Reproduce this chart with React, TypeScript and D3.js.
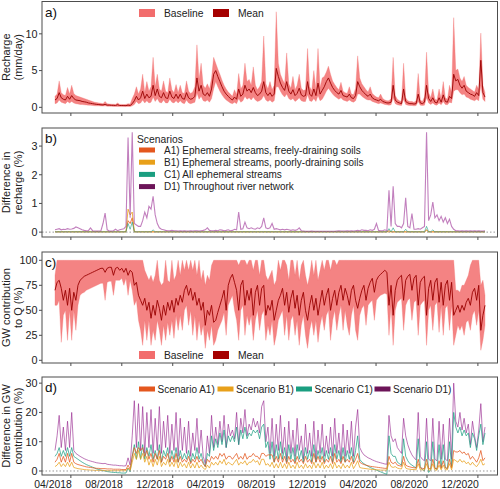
import React from "react";
import * as d3 from "d3";

// ---------- data (5-day grid starting 2018-02-22) ----------
const startDate = "2018-02-22";
const stepDays = 5;
const xTickLabels = ["04/2018","08/2018","12/2018","04/2019","08/2019","12/2019","04/2020","08/2020","12/2020"];

// Panel a: recharge (mm/day)
const aMean = [
  1.0,1.2,2.0,1.3,1.1,1.0,1.5,1.1,1.6,1.2,
  1.0,0.95,0.9,0.8,0.75,0.7,0.6,0.55,0.5,0.45,
  0.4,0.38,0.35,0.33,0.4,0.3,0.3,0.28,0.27,0.26,
  0.35,0.25,0.25,0.24,0.23,0.3,0.25,0.5,0.9,1.5,
  1.0,1.3,2.2,1.2,1.8,1.3,1.5,3.0,1.6,2.5,
  1.5,1.3,2.0,1.3,1.2,2.2,1.4,1.2,1.8,1.2,
  1.8,1.2,1.1,2.0,1.3,1.1,1.2,1.5,4.0,2.2,
  3.0,1.8,1.6,2.0,1.5,2.5,4.5,5.0,4.2,3.5,
  2.8,2.2,1.8,1.5,1.2,1.0,1.4,1.1,2.5,1.5,
  1.8,3.0,2.2,2.5,2.0,2.7,2.0,1.6,1.8,2.2,
  3.5,2.0,1.6,2.0,1.5,1.8,5.3,4.2,3.3,2.7,
  2.3,3.5,2.2,1.8,2.4,1.6,1.9,2.6,1.7,1.5,
  1.6,3.5,1.8,1.5,2.5,1.6,3.3,1.8,2.3,2.8,
  3.5,4.0,3.3,2.7,2.3,2.0,1.8,2.3,1.6,1.5,
  1.4,1.8,1.3,1.2,1.6,3.5,2.8,2.3,2.0,1.7,
  1.5,1.8,1.3,1.1,1.0,0.9,1.1,0.8,0.7,0.6,
  0.6,0.7,3.0,1.0,0.7,0.6,0.5,2.5,0.8,0.6,
  0.5,0.5,0.45,0.5,1.8,0.6,0.5,0.7,3.0,1.2,
  0.8,1.3,0.7,0.6,1.3,0.7,1.7,0.8,0.7,1.5,
  1.2,4.5,3.6,3.8,3.0,2.6,3.0,2.2,2.0,1.8,
  1.7,1.5,2.0,1.6,6.4,2.0,1.4
];
const aHigh = [
  1.5,1.8,3.6,2.0,1.7,1.6,2.7,1.8,3.0,1.9,
  1.6,1.5,1.4,1.3,1.2,1.1,1.0,0.9,0.8,0.7,
  0.65,0.6,0.55,0.5,0.8,0.48,0.45,0.43,0.42,0.4,
  0.6,0.4,0.4,0.38,0.4,0.5,0.45,1.2,1.8,2.8,
  1.8,2.5,4.5,2.0,3.5,2.2,2.8,6.8,2.8,4.5,
  2.5,2.2,3.6,2.2,2.0,4.0,2.4,2.0,3.1,2.0,
  3.0,2.0,1.9,3.6,2.2,1.9,2.1,2.8,8.5,3.8,
  6.0,3.0,2.6,3.2,2.5,4.0,6.8,6.0,5.2,4.5,
  3.7,3.0,2.5,2.1,1.8,1.5,2.4,1.7,4.6,2.5,
  3.0,6.0,3.5,3.8,3.0,5.5,3.0,2.4,2.8,3.5,
  9.7,3.2,2.5,3.5,2.4,3.0,13.0,6.0,4.5,3.8,
  3.2,7.4,3.2,2.6,4.2,2.4,3.0,4.5,2.6,2.3,
  2.4,8.0,2.8,2.3,5.0,2.4,8.0,2.7,4.0,4.2,
  4.8,5.6,4.5,3.6,3.1,2.7,2.4,3.4,2.2,2.0,
  1.9,2.8,1.8,1.7,2.6,7.0,4.0,3.2,2.8,2.4,
  2.1,2.8,1.9,1.6,1.4,1.3,1.8,1.2,1.0,0.9,
  0.9,1.2,6.8,1.6,1.1,0.9,0.8,6.0,1.3,0.9,
  0.8,0.8,0.7,0.9,4.6,1.0,0.8,1.4,7.5,2.0,
  1.3,2.5,1.1,1.0,2.5,1.2,3.5,1.3,1.1,3.0,
  2.0,12.2,5.0,5.2,4.0,3.5,4.2,3.0,2.7,2.5,
  2.3,2.1,3.0,2.4,10.1,3.0,2.0
];
const aLow = [
  0.5,0.6,1.0,0.7,0.6,0.5,0.8,0.6,0.8,0.6,
  0.5,0.45,0.4,0.38,0.35,0.32,0.3,0.28,0.25,0.22,
  0.2,0.2,0.18,0.17,0.2,0.15,0.15,0.14,0.13,0.12,
  0.12,0.1,0.1,0.1,0.1,0.12,0.1,0.2,0.4,0.8,
  0.5,0.6,1.0,0.6,0.9,0.6,0.7,1.4,0.8,1.2,
  0.7,0.6,1.0,0.6,0.6,1.1,0.7,0.6,0.9,0.6,
  0.9,0.6,0.5,1.0,0.6,0.5,0.6,0.7,2.0,1.1,
  1.5,0.9,0.8,1.0,0.7,1.2,2.5,3.5,2.8,2.2,
  1.7,1.3,1.0,0.8,0.6,0.5,0.7,0.5,1.2,0.7,
  0.9,1.5,1.1,1.3,1.0,1.4,1.0,0.8,0.9,1.1,
  1.6,1.0,0.8,1.0,0.7,0.9,2.8,2.8,2.2,1.7,
  1.4,1.8,1.2,1.0,1.2,0.8,1.0,1.3,0.9,0.8,
  0.8,1.7,0.9,0.8,1.2,0.8,1.6,0.9,1.1,1.6,
  2.2,2.6,2.2,1.8,1.5,1.3,1.1,1.3,1.0,0.9,
  0.8,1.0,0.8,0.7,0.9,1.8,1.8,1.5,1.3,1.1,
  1.0,1.0,0.8,0.7,0.6,0.5,0.6,0.5,0.4,0.35,
  0.3,0.35,1.3,0.5,0.35,0.3,0.25,1.1,0.4,0.3,
  0.25,0.25,0.2,0.25,0.8,0.3,0.25,0.3,1.3,0.6,
  0.4,0.6,0.35,0.3,0.6,0.35,0.8,0.4,0.35,0.7,
  0.6,2.2,2.4,2.4,2.0,1.7,1.8,1.4,1.3,1.1,
  1.0,0.9,1.1,0.9,3.0,1.1,0.8
];

// Panel b: difference in recharge (%)
const bA1 = [
  0.01,0.01,0.01,0.01,0.01,0.01,0.01,0.01,0.01,0.01,
  0.01,0.01,0.01,0.01,0.01,0.01,0.01,0.01,0.01,0.01,
  0.01,0.01,0.01,0.01,0.01,0.01,0.01,0.01,0.01,0.01,
  0.01,0.01,0.01,0.01,0.01,0.4,0.3,0.5,0.01,0.01,
  0.01,0.01,0.01,0.01,0.01,0.01,0.01,0.01,0.01,0.01,
  0.01,0.01,0.01,0.01,0.01,0.01,0.01,0.01,0.01,0.01,
  0.01,0.01,0.01,0.01,0.01,0.01,0.01,0.01,0.01,0.01,
  0.01,0.01,0.01,0.01,0.01,0.01,0.01,0.01,0.01,0.01,
  0.01,0.01,0.01,0.01,0.01,0.01,0.01,0.01,0.01,0.01,
  0.01,0.01,0.01,0.01,0.01,0.01,0.01,0.01,0.01,0.01,
  0.01,0.01,0.01,0.01,0.01,0.01,0.01,0.01,0.01,0.01,
  0.01,0.01,0.01,0.01,0.01,0.01,0.01,0.01,0.01,0.01,
  0.01,0.01,0.01,0.01,0.01,0.01,0.01,0.01,0.01,0.01,
  0.01,0.01,0.01,0.01,0.01,0.01,0.01,0.01,0.01,0.01,
  0.01,0.01,0.01,0.01,0.01,0.01,0.01,0.01,0.01,0.01,
  0.01,0.01,0.01,0.01,0.01,0.01,0.01,0.01,0.01,0.01,
  0.05,0.01,0.01,0.01,0.01,0.01,0.01,0.01,0.01,0.01,
  0.01,0.01,0.01,0.01,0.01,0.01,0.01,0.01,0.08,0.01,
  0.01,0.01,0.01,0.01,0.01,0.01,0.01,0.01,0.01,0.01,
  0.01,0.01,0.01,0.01,0.01,0.01,0.01,0.01,0.01,0.01,
  0.01,0.01,0.01,0.01,0.01,0.01,0.01
];
const bB1 = [
  0.01,0.01,0.01,0.01,0.01,0.01,0.01,0.01,0.01,0.01,
  0.01,0.01,0.01,0.01,0.01,0.01,0.01,0.01,0.01,0.01,
  0.01,0.01,0.01,0.01,0.01,0.01,0.01,0.01,0.01,0.01,
  0.01,0.01,0.01,0.01,0.01,0.8,0.6,0.7,0.01,0.01,
  0.01,0.01,0.01,0.01,0.01,0.01,0.01,0.01,0.01,0.01,
  0.01,0.01,0.01,0.01,0.01,0.01,0.01,0.01,0.01,0.01,
  0.01,0.01,0.01,0.01,0.01,0.01,0.01,0.01,0.01,0.01,
  0.01,0.01,0.01,0.01,0.01,0.01,0.01,0.01,0.01,0.01,
  0.01,0.01,0.01,0.01,0.01,0.01,0.01,0.01,0.01,0.01,
  0.01,0.01,0.01,0.01,0.01,0.01,0.01,0.01,0.01,0.01,
  0.01,0.01,0.01,0.01,0.01,0.01,0.01,0.01,0.01,0.01,
  0.01,0.01,0.01,0.01,0.01,0.01,0.01,0.01,0.01,0.01,
  0.01,0.01,0.01,0.01,0.01,0.01,0.01,0.01,0.01,0.01,
  0.01,0.01,0.01,0.01,0.01,0.01,0.01,0.01,0.01,0.01,
  0.01,0.01,0.01,0.01,0.01,0.01,0.01,0.01,0.01,0.01,
  0.01,0.01,0.01,0.01,0.01,0.01,0.01,0.01,0.01,0.01,
  0.01,0.01,0.01,0.01,0.01,0.01,0.01,0.01,0.01,0.01,
  0.01,0.01,0.01,0.01,0.01,0.01,0.01,0.01,0.06,0.01,
  0.01,0.01,0.01,0.01,0.01,0.01,0.01,0.01,0.01,0.01,
  0.01,0.01,0.01,0.01,0.01,0.01,0.01,0.01,0.01,0.01,
  0.01,0.01,0.01,0.01,0.01,0.01,0.01
];
const bC1 = [
  0.01,0.01,0.01,0.01,0.01,0.01,0.01,0.01,0.01,0.01,
  0.01,0.01,0.01,0.01,0.01,0.01,0.01,0.01,0.01,0.01,
  0.01,0.01,0.01,0.01,0.01,0.01,0.01,0.01,0.01,0.01,
  0.01,0.01,0.01,0.01,0.01,0.3,0.1,0.35,0.01,0.01,
  0.01,0.01,0.01,0.01,0.01,0.01,0.01,0.08,0.01,0.01,
  0.01,0.01,0.01,0.01,0.01,0.01,0.01,0.01,0.01,0.01,
  0.01,0.01,0.01,0.01,0.01,0.01,0.01,0.01,0.01,0.01,
  0.01,0.01,0.01,0.01,0.01,0.01,0.01,0.01,0.01,0.01,
  0.01,0.01,0.01,0.01,0.01,0.01,0.01,0.01,0.01,0.01,
  0.01,0.01,0.01,0.01,0.01,0.01,0.01,0.01,0.01,0.01,
  0.01,0.01,0.01,0.01,0.01,0.01,0.01,0.01,0.01,0.01,
  0.01,0.01,0.01,0.01,0.01,0.01,0.01,0.01,0.01,0.01,
  0.01,0.01,0.01,0.01,0.01,0.01,0.01,0.01,0.01,0.01,
  0.01,0.01,0.01,0.01,0.01,0.01,0.01,0.01,0.01,0.01,
  0.01,0.01,0.01,0.01,0.01,0.01,0.01,0.01,0.01,0.01,
  0.01,0.01,0.01,0.01,0.01,0.01,0.01,0.01,0.01,0.01,
  0.12,0.01,0.15,0.01,0.01,0.01,0.01,0.01,0.1,0.01,
  0.01,0.01,0.01,0.01,0.01,0.01,0.01,0.01,0.2,0.01,
  0.01,0.08,0.01,0.01,0.01,0.01,0.01,0.01,0.01,0.01,
  0.01,0.01,0.01,0.01,0.01,0.01,0.01,0.01,0.01,0.01,
  0.01,0.01,0.01,0.01,0.01,0.01,0.01
];
const bD1 = [
  0.08,0.1,0.12,0.08,0.1,0.09,0.12,0.1,0.11,0.13,
  0.18,0.15,0.12,0.08,0.06,0.05,0.05,0.15,0.05,0.04,
  0.04,0.04,0.05,0.3,0.66,0.08,0.04,0.04,0.05,0.1,
  0.05,0.08,0.1,0.12,0.2,3.3,0.5,3.48,0.3,0.25,
  0.2,0.2,0.4,0.7,0.5,0.9,0.8,1.25,0.6,0.3,
  0.15,0.1,0.08,0.06,0.05,0.05,0.06,0.05,0.05,0.04,
  0.05,0.04,0.05,0.04,0.04,0.05,0.04,0.05,0.05,0.04,
  0.05,0.06,0.08,0.15,0.06,0.05,0.05,0.06,0.05,0.08,
  0.07,0.05,0.06,0.08,0.05,0.06,0.1,0.08,0.7,0.1,
  0.12,0.35,0.15,0.12,0.15,0.12,0.1,0.15,0.12,0.2,
  0.5,0.15,0.12,0.15,0.3,0.1,0.12,0.1,0.08,0.1,
  0.08,0.1,0.08,0.06,0.08,0.06,0.08,0.15,0.05,0.04,
  0.03,0.03,0.03,0.04,0.03,0.03,0.03,0.03,0.03,0.03,
  0.03,0.03,0.03,0.03,0.03,0.04,0.05,0.04,0.04,0.04,
  0.05,0.04,0.05,0.04,0.05,0.06,0.05,0.08,0.06,0.06,
  0.05,0.08,0.06,0.1,0.3,0.06,0.05,0.05,0.08,0.05,
  1.46,0.2,1.6,0.3,0.2,0.2,0.15,0.3,1.2,0.2,
  0.15,0.65,0.1,0.1,0.12,0.1,0.15,0.2,3.48,0.4,
  0.6,1.05,0.5,0.6,0.4,0.55,0.35,0.5,0.3,0.45,
  0.2,0.1,0.05,0.05,0.04,0.05,0.04,0.05,0.04,0.05,
  0.04,0.05,0.04,0.05,0.04,0.04,0.05
];

// Panel c: GW contribution to Q (%)
const cMean = [
  70,78,80,72,60,70,55,72,50,68,
  60,75,80,82,84,85,86,87,88,89,
  90,91,92,92,88,92,93,93,85,92,
  93,90,92,88,92,85,90,88,75,78,
  65,60,55,62,50,58,42,55,45,60,
  52,40,55,45,58,50,60,48,62,55,
  65,58,70,75,65,72,60,68,55,62,
  50,58,35,50,45,55,38,40,48,55,
  62,70,50,75,82,86,78,70,50,75,
  80,55,70,60,72,45,68,75,55,72,
  75,45,55,50,60,40,50,60,65,72,
  55,68,48,62,70,52,65,45,60,68,
  50,40,55,65,50,62,45,58,70,55,
  65,72,50,62,70,55,68,75,60,72,
  65,55,70,75,60,52,62,70,75,60,
  72,78,82,68,80,84,86,88,90,88,
  55,75,45,70,80,83,85,60,80,84,
  86,70,82,85,55,78,82,84,45,72,
  80,60,78,82,58,78,55,75,80,60,
  78,45,50,55,48,55,50,58,62,55,
  68,72,60,75,30,45,55
];
const cLow = [
  55,55,60,18,45,50,20,50,20,50,
  30,55,65,67,68,70,71,72,73,74,
  75,76,77,77,60,78,79,79,65,80,
  80,80,82,75,82,65,80,70,55,60,
  40,30,15,40,20,40,15,30,20,40,
  30,15,35,20,38,25,40,22,45,30,
  45,30,50,55,35,50,25,45,20,40,
  25,35,12,30,20,35,15,20,30,35,
  40,48,25,55,60,65,50,40,20,50,
  55,25,45,35,45,20,40,50,30,45,
  50,20,35,25,40,15,25,40,45,50,
  25,45,20,40,45,25,40,15,35,45,
  25,12,30,40,25,40,18,35,45,30,
  45,50,20,40,50,30,45,55,30,50,
  35,25,45,55,30,20,45,52,55,35,
  55,58,60,40,60,63,65,66,67,66,
  25,55,15,50,58,60,62,30,55,60,
  62,40,58,60,25,55,58,60,15,50,
  55,30,55,58,28,55,25,52,55,30,
  55,15,25,35,30,35,25,38,40,30,
  45,50,35,50,10,20,35
];
const cHigh = [
  85,100,100,100,100,100,100,100,100,100,
  100,100,100,100,100,100,100,100,100,100,
  100,100,100,100,100,100,100,100,100,100,
  100,100,100,100,100,100,100,100,100,100,
  100,100,100,90,85,80,85,78,85,100,
  80,75,78,100,80,78,100,80,85,100,
  85,100,90,100,90,100,90,100,85,100,
  80,90,75,85,80,95,100,100,100,100,
  100,100,100,100,100,100,100,100,95,100,
  100,100,95,100,100,90,100,100,85,100,
  100,85,80,85,90,75,80,100,90,100,
  100,95,80,100,100,85,100,80,95,100,
  85,75,85,100,85,100,80,90,100,90,
  100,100,90,100,100,95,100,100,100,100,
  100,100,100,100,100,100,100,100,100,100,
  100,100,100,100,100,100,100,100,100,100,
  100,100,100,100,100,100,100,100,100,100,
  100,100,100,100,100,100,100,100,100,100,
  100,100,100,100,100,100,100,100,100,100,
  100,100,70,70,68,75,75,80,85,95,
  100,100,100,100,75,80,65
];

// Panel d: difference in GW contribution (%)
const dA1 = [
  3,4,6,3,5,3,6,3,6,3,
  2.5,2.2,2,1.8,1.6,1.4,1.3,1.2,1.1,1.0,
  0.9,0.9,0.8,0.8,0.8,0.7,0.7,0.7,0.6,0.6,
  0.6,0.6,0.5,0.5,0.5,2,0.6,5,8,6,
  8,7,8,5,7,4,6,3,6,4,
  7,3,5,4,6,3,5,3,6,3,
  5,3,4,3,5,2.5,4,3,5,3,
  4,2.5,1.5,4,3,5,4,5,4,6,
  5,6,4,5,5,4,5,6,4,5,
  4,6,4,5,5,6,5,5,4,6,
  6,5,5.5,5.5,5.5,3,5,3,6,3,
  5,2.5,5,3,4,2.5,5,3,4,2.5,
  5,3,4,2.5,6,3,5,3,5,2.5,
  4,3,5,2.5,6,3,4,2.5,5,3,
  4,3,5,2.5,4,6,3,2.5,2.2,2,
  1.8,1.6,1.5,1.4,1.3,1.2,1.1,1.0,0.9,0.9,
  5,3,2.5,3,2,1.8,1.6,5,2,1.6,
  1.4,1.2,1.1,1.0,4,1.0,0.9,0.8,4,0.8,
  0.8,4,0.9,0.8,3.5,0.9,3.5,1,0.9,4,
  1,7,6.5,6.5,7,6,6.5,5.5,6,4,
  5,4,3,4.5,7,3.5,4.5
];
const dB1 = [
  1.5,2,3,1.5,2.5,1.5,3,1.5,3,1.2,
  1.0,0.8,0.7,0.6,0.5,0.4,0.4,0.3,0.3,0.2,
  0.2,0.2,0.2,0.2,0.1,0.1,0.1,0.1,0.1,0.1,
  0.1,0.1,0.1,0.1,0.1,1.0,0.2,3,6,4,
  7,4,6,3,5,2,4,1.5,4,2,
  5,1.5,3,2,4,1.5,3,1.5,4,1,
  3,1.5,2.5,1,3,1,2.5,1,3,1,
  2,1,0.5,2,1,3,2,3,2,3.5,
  2.5,4,2,3,2.5,2,3,4,2,3,
  2.5,3.5,2,3,3,4,3,3.5,2,4,
  4,2,2.5,1.5,3,1,2.5,1,3,1,
  2.5,0.8,3,1,2,0.8,3,1,2,0.8,
  2.5,1,2,0.8,3,1,2.5,1,3,0.8,
  2,1,2.5,0.8,3,1,2,0.8,2.5,1,
  2,1,3,0.8,2,3.5,1.2,1.0,0.9,0.8,
  0.7,0.6,0.5,0.5,0.4,0.4,0.3,0.3,0.3,0.3,
  3,1.5,1.2,1.5,1,0.8,0.7,3,1,0.7,
  0.6,0.5,0.5,0.4,2.5,0.4,0.4,0.3,2.5,0.3,
  0.3,2.5,0.3,0.3,2,0.4,2,0.4,0.4,2.5,
  0.4,4,3.5,3,4,3,3.5,2.5,3,2,
  3,2,1.5,2.5,4,2,2.5
];
const dC1 = [
  5,6,8,5,7,5,8,5,8,5,
  4.5,4,3.5,3,2.6,2.2,1.9,1.6,1.3,1.0,
  0.7,0.5,0.3,0.1,0,-0.2,-0.3,-0.4,-0.5,-0.5,
  -0.6,-0.6,-0.7,-0.7,-0.7,1.0,-0.3,5,9,4,
  10,4,9,4,8,5,9,4,7,4,
  9,3,7,5,8,3,7,4,8,3,
  7,4,6,4,7,3,6,4,8,4,
  6,3,1.5,6,5,12,7,11,8,13,
  9,14,8,12,10,12,10,15,9,14,
  11,15,11,13,12,14,13,14,11,15,
  16,8,10,4,10,3,9,4,10,4,
  8,3,9,4,8,3,9,4,7,3,
  8,4,7,3,9,3,7,4,8,3,
  7,4,8,3,9,4,7,3,8,3,
  7,4,8,3,7,12,4,3,2.5,2,
  1.6,1.2,0.9,0.6,0.3,0,-0.3,-0.6,-0.9,-1.1,
  12,6,5,5,3,2.5,2,11,5,3.5,
  2.5,2,1.5,1,11,1.5,0.5,0,10,-0.5,
  0.5,10,1,0.5,9,1,9,1.2,0.8,10,
  1.5,20,15,13,15,12,14,12,13,8,
  13,11,7,12,16,9,13
];
const dD1 = [
  7,12,19,8,15,7,17,8,20,7,
  6,5.5,5,4.6,4.2,3.9,3.6,3.4,3.2,3.0,
  2.8,2.7,2.6,2.5,2.6,2.3,2.2,2.1,2.0,2.0,
  1.9,1.8,1.8,1.7,1.8,4.5,2.0,12,24,8,
  23,7,22,6,20,8,21,6,18,7,
  22,6,17,8,19,6,16,7,20,5,
  18,7,15,6,17,5,13,7,18,6,
  14,5,2.5,12,6,19,8,15,9,17,
  10,19,8,16,12,14,11,20,9,18,
  13,21,12,16,14,18,15,17,13,22,
  24,10,15,6,18,5,16,7,19,6,
  15,4,17,6,14,5,18,7,12,4,
  16,6,13,5,17,4,14,6,16,5,
  12,6,15,5,18,6,13,4,16,5,
  14,6,17,5,15,21,8,6.5,5.5,5,
  4.5,4.2,3.8,3.5,3.2,3.0,2.8,2.6,2.4,2.3,
  19,12,10,11,8,7,6,18,12,9,
  7,5.5,4.5,3.8,20,5,4,3.5,18,4,
  3.5,18,4,3.5,17,4,16,4,3.5,18,
  4,30,17,15,20,14,18,13,16,9,
  17,12,8,14,23,10,15
];

const scenarioNames = ["A1) Ephemeral streams, freely-draining soils","B1) Ephemeral streams, poorly-draining soils","C1) All ephemeral streams","D1) Throughout river network"];
const scenarioShort = ["Scenario A1)","Scenario B1)","Scenario C1)","Scenario D1)"];

// ---------- styling ----------
const FONT = "'Liberation Sans', Arial, Helvetica, sans-serif";
const COL = { band: "#f26d6d", mean: "#990000", A1: "#e4571e", B1: "#e8a01a", C1: "#1a9e80", D1: "#6c1458", D1line: "#9a2c92" };
const LEFT = 42, RIGHT = 497.5, XL = 55, XR = 485;
const LEG_FS = 10;
const TICK_FS = 10.4;

type P = { top: number; bottom: number; domain: [number, number]; ticks: number[] };
const PA: P = { top: 1.5, bottom: 113, domain: [-0.77, 14.4], ticks: [0, 5, 10] };
const PB: P = { top: 128, bottom: 237, domain: [-0.17, 3.63], ticks: [0, 1, 2, 3] };
const PC: P = { top: 252, bottom: 363, domain: [-2.7, 108.3], ticks: [0, 25, 50, 75, 100] };
const PD: P = { top: 377, bottom: 475, domain: [-1.37, 32.1], ticks: [0, 10, 20, 30] };

export default function App() {
  const t0 = d3.timeParse("%Y-%m-%d")(startDate)!;
  const dateAt = (i: number) => d3.timeDay.offset(t0, i * stepDays);
  const n = aMean.length;
  const x = d3.scaleTime().domain([dateAt(0), dateAt(n - 1)]).range([XL, XR]);
  const tickDates = xTickLabels.map((l) => d3.timeParse("%m/%Y")(l)!);
  const ys = (p: P) => d3.scaleLinear().domain(p.domain).range([p.bottom, p.top]);
  const yA = ys(PA), yB = ys(PB), yC = ys(PC), yD = ys(PD);

  const line = (y: d3.ScaleLinear<number, number>, arr: number[]) =>
    d3.line<number>().x((_, i) => x(dateAt(i))).y((v) => y(v))(arr) || "";
  const area = (y: d3.ScaleLinear<number, number>, lo: number[], hi: number[]) =>
    d3.area<number>().x((_, i) => x(dateAt(i))).y0((_, i) => y(lo[i])).y1((v) => y(v))(hi) || "";

  const frame = (p: P, y: d3.ScaleLinear<number, number>, title: string[], label: string) => (
    <g>
      <rect x={LEFT} y={p.top} width={RIGHT - LEFT} height={p.bottom - p.top} fill="none" stroke="#4d4d4d" strokeWidth={1} />
      {p.ticks.map((t) => (
        <g key={t}>
          <line x1={LEFT - 3} x2={LEFT} y1={y(t)} y2={y(t)} stroke="#4d4d4d" />
          <text x={LEFT - 4.5} y={y(t)} dy="0.36em" textAnchor="end" fontSize={TICK_FS + 0.4} fill="#222">{t}</text>
        </g>
      ))}
      {tickDates.map((d, i) => (
        <line key={i} x1={x(d)} x2={x(d)} y1={p.bottom} y2={p.bottom + 3} stroke="#4d4d4d" />
      ))}
      <text transform={`translate(10,${(p.top + p.bottom) / 2}) rotate(-90)`} textAnchor="middle" fontSize={11} fill="#222">
        <tspan x={0} dy="0">{title[0]}</tspan>
        <tspan x={0} dy="12">{title[1]}</tspan>
      </text>
      <text x={45} y={p.top + 15} fontSize={13.5} fill="#111">{label}</text>
    </g>
  );

  return (
    <svg width={500} height={489} style={{ position: "absolute", left: 0, top: 0, background: "#fff" }} fontFamily={FONT}>
      <defs>
        {[PA, PB, PC, PD].map((p, i) => (
          <clipPath id={`clip${i}`} key={i}>
            <rect x={LEFT} y={p.top} width={RIGHT - LEFT} height={p.bottom - p.top} />
          </clipPath>
        ))}
      </defs>
      <rect x={0} y={0} width={500} height={489} fill="#fff" />

      {/* Panel a */}
      <g clipPath="url(#clip0)">
        <path d={area(yA, aLow, aHigh)} fill={COL.band} fillOpacity={0.85} stroke={COL.band} strokeOpacity={0.5} strokeWidth={0.6} />
        <path d={line(yA, aMean)} fill="none" stroke={COL.mean} strokeWidth={0.9} />
      </g>
      {frame(PA, yA, ["Recharge", "(mm/day)"], "a)")}
      <rect x={139} y={9} width={16} height={8} fill={COL.band} />
      <text x={164} y={16.8} fontSize={LEG_FS + 0.3} fill="#222">Baseline</text>
      <rect x={213} y={9} width={16} height={8} fill="#a50000" />
      <text x={238} y={16.8} fontSize={LEG_FS + 0.3} fill="#222">Mean</text>

      {/* Panel b */}
      <g clipPath="url(#clip1)">
        <path d={line(yB, bA1)} fill="none" stroke={COL.A1} strokeWidth={1} strokeOpacity={0.8} />
        <path d={line(yB, bB1)} fill="none" stroke={COL.B1} strokeWidth={1} strokeOpacity={0.8} />
        <path d={line(yB, bC1)} fill="none" stroke={COL.C1} strokeWidth={1} strokeOpacity={0.6} />
        <path d={line(yB, bD1)} fill="none" stroke={COL.D1line} strokeWidth={1.1} strokeOpacity={0.6} />
        <line x1={LEFT} x2={RIGHT} y1={yB(0)} y2={yB(0)} stroke="#999" strokeDasharray="1.5,2" />
      </g>
      {frame(PB, yB, ["Difference in", "recharge (%)"], "b)")}
      <text x={137} y={142.5} fontSize={LEG_FS + 0.3} fill="#222">Scenarios</text>
      {scenarioNames.map((s, i) => (
        <g key={s}>
          <rect x={139} y={147.5 + i * 12.2} width={16} height={5} fill={[COL.A1, COL.B1, COL.C1, COL.D1][i]} />
          <text x={164} y={153.6 + i * 12.2} fontSize={LEG_FS} fill="#222">{s}</text>
        </g>
      ))}

      {/* Panel c */}
      <g clipPath="url(#clip2)">
        <path d={area(yC, cLow, cHigh)} fill={COL.band} fillOpacity={0.85} stroke={COL.band} strokeOpacity={0.5} strokeWidth={0.6} />
        <path d={line(yC, cMean)} fill="none" stroke={COL.mean} strokeWidth={0.9} />
      </g>
      {frame(PC, yC, ["GW contribution", "to Q (%)"], "c)")}
      <rect x={139} y={351} width={16} height={8} fill={COL.band} />
      <text x={164} y={358.8} fontSize={LEG_FS + 0.3} fill="#222">Baseline</text>
      <rect x={213} y={351} width={16} height={8} fill="#a50000" />
      <text x={238} y={358.8} fontSize={LEG_FS + 0.3} fill="#222">Mean</text>

      {/* Panel d */}
      <g clipPath="url(#clip3)">
        <path d={line(yD, dD1)} fill="none" stroke={COL.D1line} strokeWidth={1} strokeOpacity={0.65} />
        <path d={line(yD, dC1)} fill="none" stroke={COL.C1} strokeWidth={0.9} strokeOpacity={0.8} />
        <path d={line(yD, dA1)} fill="none" stroke={COL.A1} strokeWidth={0.9} strokeOpacity={0.85} />
        <path d={line(yD, dB1)} fill="none" stroke={COL.B1} strokeWidth={0.9} strokeOpacity={0.85} />
        <line x1={LEFT} x2={RIGHT} y1={yD(0)} y2={yD(0)} stroke="#999" strokeDasharray="1.5,2" />
      </g>
      {frame(PD, yD, ["Difference in GW", "contribution (%)"], "d)")}
      {scenarioShort.map((s, i) => (
        <g key={s}>
          <rect x={139 + i * 78.5} y={386.5} width={16} height={5} fill={[COL.A1, COL.B1, COL.C1, COL.D1][i]} />
          <text x={157.5 + i * 78.5} y={392.8} fontSize={LEG_FS} fill="#222">{s}</text>
        </g>
      ))}
      {tickDates.map((d, i) => (
        <text key={i} x={x(d) + 1} y={487.5} textAnchor="end" fontSize={TICK_FS} fill="#222">{xTickLabels[i]}</text>
      ))}
    </svg>
  );
}
